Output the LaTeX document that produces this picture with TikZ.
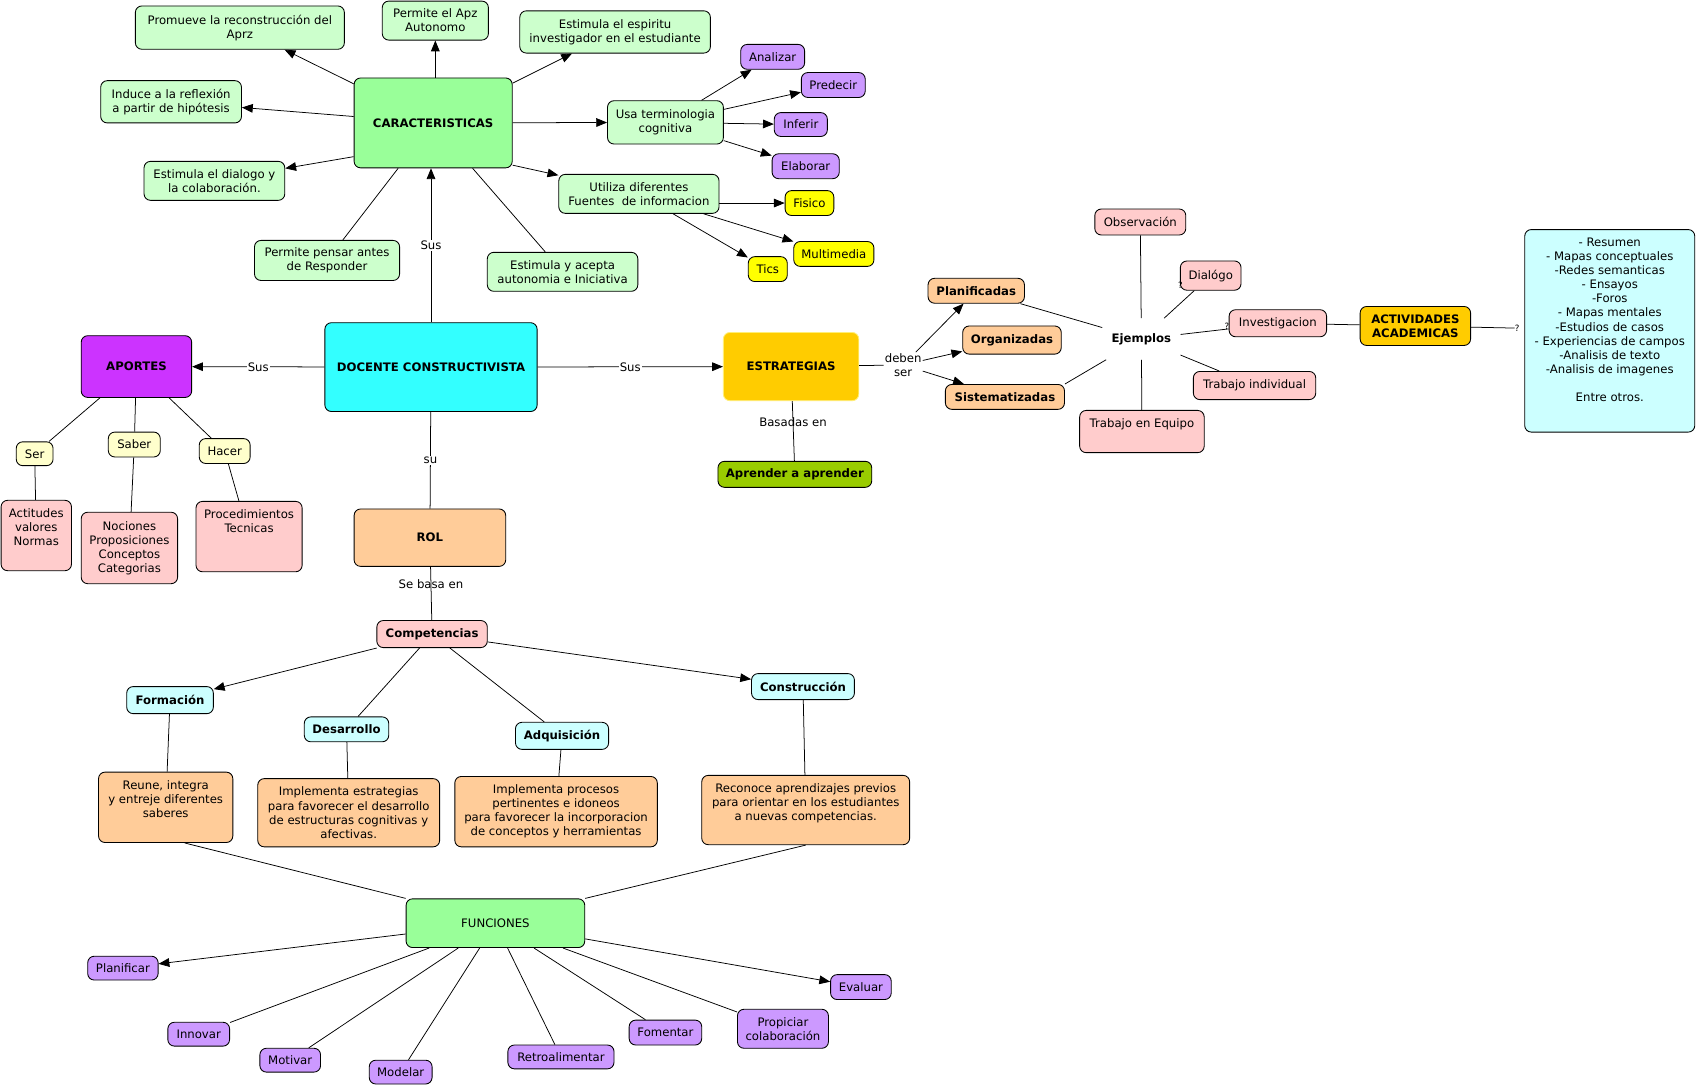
\documentclass[tikz,border=0pt]{standalone}
\usepackage{fontspec}
\setmainfont{DejaVu Sans}
\usetikzlibrary{arrows.meta}

\definecolor{verdeclaro}{HTML}{CCFFCC}
\definecolor{verde}{HTML}{99FF99}
\definecolor{cian}{HTML}{33FFFF}
\definecolor{morado}{HTML}{CC33FF}
\definecolor{lila}{HTML}{CC99FF}
\definecolor{amarillo}{HTML}{FFFF00}
\definecolor{crema}{HTML}{FFFFCC}
\definecolor{rosa}{HTML}{FFCCCC}
\definecolor{naranja}{HTML}{FFCC99}
\definecolor{oro}{HTML}{FFCC00}
\definecolor{oliva}{HTML}{99CC00}
\definecolor{celeste}{HTML}{CCFFFF}
\definecolor{bordeoro}{HTML}{FFEE77}

\newcommand{\letra}{\fontsize{10.8}{13}\selectfont}

\tikzset{
    caja/.style={draw, rounded corners=6pt, line width=0.8pt, align=center, inner sep=2pt, font=\letra},
    negrita/.style={font=\letra\bfseries},
    tam/.style 2 args={minimum width=#1pt, minimum height=#2pt},
    arriba/.style={anchor=north, align=center, inner sep=8pt, font=\letra},
    linea/.style={line width=0.7pt},
    flecha/.style={linea, -{Triangle[length=10pt,width=8pt]}},
    frase/.style={fill=white, inner sep=1pt, font=\letra},
    frasesola/.style={inner sep=1pt, font=\letra},
    qmark/.style={inner sep=0pt, font=\fontsize{8}{9}\selectfont},
}

\begin{document}
\begin{tikzpicture}[x=1pt, y=-1pt]
        \path[use as bounding box, fill=white] (0,0) rectangle (1568,1004.7);
        % CARACTERISTICAS y sus ramas
        \node[caja, negrita, fill=verde, tam={146}{83}] (carac) at (400,113.5) {CARACTERISTICAS};
        \node[caja, fill=verdeclaro, tam={193}{40}] (promueve) at (221.5,25.5) {Promueve la reconstrucción del\\Aprz};
        \node[caja, fill=verdeclaro, tam={98}{36}] (apz) at (402,19) {Permite el Apz\\Autonomo};
        \node[caja, fill=verdeclaro, tam={176}{39}] (espiritu) at (568,29.5) {Estimula el espiritu\\investigador en el estudiante};
        \node[caja, fill=verdeclaro, tam={130}{39}] (induce) at (158,94) {Induce a la reflexión\\a partir de hipótesis};
        \node[caja, fill=verdeclaro, tam={130}{36}] (dialogo) at (198,167) {Estimula el dialogo y\\la colaboración.};
        \node[caja, fill=verdeclaro, tam={134}{37}] (pensar) at (302,240.5) {Permite pensar antes\\de Responder};
        \node[caja, fill=verdeclaro, tam={139}{36}] (autonomia) at (519.5,251) {Estimula y acepta\\autonomia e Iniciativa};
        \node[caja, fill=verdeclaro, tam={107}{40}] (terminologia) at (614.5,113) {Usa terminologia\\cognitiva};
        \node[caja, fill=verdeclaro, tam={148}{36}] (fuentes) at (590,179) {Utiliza diferentes\\Fuentes\ \ de informacion};
        \node[caja, fill=lila, tam={59}{23}] (analizar) at (713.5,52.5) {Analizar};
        \node[caja, fill=lila, tam={59}{23}] (predecir) at (769.5,78.5) {Predecir};
        \node[caja, fill=lila, tam={49}{22}] (inferir) at (739.5,115) {Inferir};
        \node[caja, fill=lila, tam={62}{23}] (elaborar) at (744,153.5) {Elaborar};
        \node[caja, fill=amarillo, tam={45}{23}] (fisico) at (747.5,187.5) {Fisico};
        \node[caja, fill=amarillo, tam={74}{23}] (multimedia) at (770,234.5) {Multimedia};
        \node[caja, fill=amarillo, tam={36}{23}] (tics) at (709,248.5) {Tics};
        % DOCENTE y APORTES
        \node[caja, negrita, fill=cian, tam={196}{82}] (docente) at (398,339) {DOCENTE CONSTRUCTIVISTA};
        \node[caja, negrita, fill=morado, tam={102}{57}] (aportes) at (126,338.5) {APORTES};
        \node[caja, fill=crema, tam={34}{22}] (ser) at (32,419) {Ser};
        \node[caja, fill=crema, tam={48}{23}] (saber) at (124,410.5) {Saber};
        \node[caja, fill=crema, tam={47}{23}] (hacer) at (207.5,416.5) {Hacer};
        \node[caja, fill=rosa, tam={65}{65}, label={[arriba]north:{Actitudes\\valores\\Normas}}] (actitudes) at (33.5,494.5) {};
        \node[caja, fill=rosa, tam={89}{66}] (nociones) at (119.5,506) {Nociones\\Proposiciones\\Conceptos\\Categorias};
        \node[caja, fill=rosa, tam={98}{65}, label={[arriba]north:{Procedimientos\\Tecnicas}}] (procedimientos) at (230,495.5) {};
        \node[caja, negrita, fill=naranja, tam={140}{53}] (rol) at (397,496.5) {ROL};
        % ESTRATEGIAS
        \node[caja, negrita, fill=oro, draw=bordeoro, tam={125}{63}] (estrategias) at (730.5,338.5) {ESTRATEGIAS};
        \node[caja, negrita, fill=oliva, tam={142}{24}] (aprender) at (734,438) {Aprender a aprender};
        \node[frasesola, align=center] (deben) at (834,337) {deben\\ser};
        \node[caja, negrita, fill=naranja, tam={89}{23}] (planificadas) at (901.5,268.5) {Planificadas};
        \node[caja, negrita, fill=naranja, tam={91}{26}] (organizadas) at (934.5,314) {Organizadas};
        \node[caja, negrita, fill=naranja, tam={110}{23}] (sistematizadas) at (928,366.5) {Sistematizadas};
        \node[negrita, tam={72}{38}, inner sep=2pt] (ejemplos) at (1054,313) {Ejemplos};
        \node[caja, fill=rosa, tam={84}{24}] (observacion) at (1053,205) {Observación};
        \node[caja, fill=rosa, tam={56}{27}] (dialogo2) at (1118,254.5) {Dialógo};
        \node[caja, fill=rosa, tam={90}{25}] (investigacion) at (1180,298.5) {Investigacion};
        \node[caja, fill=rosa, tam={113}{26}] (individual) at (1158.5,356) {Trabajo individual};
        \node[caja, fill=rosa, tam={115}{39}, label={[arriba]north:{Trabajo en Equipo}}] (equipo) at (1054.5,398.5) {};
        \node[caja, negrita, fill=oro, tam={102}{36}] (actividades) at (1307,301) {ACTIVIDADES\\ACADEMICAS};
        \node[caja, fill=celeste, tam={157}{187}, label={[arriba]north:{- Resumen\\- Mapas conceptuales\\-Redes semanticas\\- Ensayos\\-Foros\\- Mapas mentales\\-Estudios de casos\\- Experiencias de campos\\-Analisis de texto\\-Analisis de imagenes\\[13pt]Entre otros.}}] (lista) at (1486.5,305.5) {};
        \node[qmark] (q1) at (1090,263) {?};
        \node[qmark] (q2) at (1133,301) {?};
        \node[qmark] (q3) at (1401,303) {?};
        % ROL: competencias
        \node[caja, negrita, fill=rosa, tam={102}{25}] (competencias) at (399,585.5) {Competencias};
        \node[caja, negrita, fill=celeste, tam={80}{25}] (formacion) at (157,646.5) {Formación};
        \node[caja, negrita, fill=celeste, tam={78}{23}] (desarrollo) at (320,673.5) {Desarrollo};
        \node[caja, negrita, fill=celeste, tam={86}{25}] (adquisicion) at (519,679.5) {Adquisición};
        \node[caja, negrita, fill=celeste, tam={95}{24}] (construccion) at (741.5,634) {Construcción};
        \node[caja, fill=naranja, tam={124}{65}, label={[arriba]north:{Reune, integra\\y entreje diferentes\\saberes}}] (reune) at (153,745.5) {};
        \node[caja, fill=naranja, tam={168}{63}] (implementa) at (322,750.5) {Implementa estrategias\\para favorecer el desarrollo\\de estructuras cognitivas y\\afectivas.};
        \node[caja, fill=naranja, tam={187}{65}] (procesos) at (513.5,749.5) {Implementa procesos\\pertinentes e idoneos\\para favorecer la incorporacion\\de conceptos y herramientas};
        \node[caja, fill=naranja, tam={192}{64}, label={[arriba]north:{Reconoce aprendizajes previos\\para orientar en los estudiantes\\a nuevas competencias.}}] (reconoce) at (744,748) {};
        % FUNCIONES
        \node[caja, fill=verde, tam={165}{45}] (funciones) at (457.5,852.5) {FUNCIONES};
        \node[caja, fill=lila, tam={65}{22}] (planificar) at (113.5,894) {Planificar};
        \node[caja, fill=lila, tam={57}{22}] (innovar) at (183.5,955) {Innovar};
        \node[caja, fill=lila, tam={56}{22}] (motivar) at (268,979) {Motivar};
        \node[caja, fill=lila, tam={58}{22}] (modelar) at (370,990) {Modelar};
        \node[caja, fill=lila, tam={98}{22}] (retroalimentar) at (518,976) {Retroalimentar};
        \node[caja, fill=lila, tam={67}{23}] (fomentar) at (614.5,953.5) {Fomentar};
        \node[caja, fill=lila, tam={84}{36}] (propiciar) at (723,950) {Propiciar\\colaboración};
        \node[caja, fill=lila, tam={56}{23}] (evaluar) at (795,911.5) {Evaluar};
        %
        % Conectores de CARACTERISTICAS
        \draw[flecha] (docente.north) -- node[frase]{Sus} (docente.north |- carac.south);
        \draw[flecha] (carac) -- (promueve);
        \draw[flecha] (carac.north -| apz) -- (apz);
        \draw[flecha] (carac) -- (espiritu);
        \draw[flecha] (carac) -- (induce);
        \draw[flecha] (carac.203) -- (dialogo.10);
        \draw[linea] (carac) -- (pensar);
        \draw[linea] (carac) -- (autonomia);
        \draw[flecha] (carac) -- (terminologia);
        \draw[flecha] (carac.-28) -- (fuentes.167);
        \foreach \hoja in {analizar,predecir,inferir,elaborar}
            \draw[flecha] (terminologia) -- (\hoja);
        \draw[flecha] (fuentes.east |- fisico) -- (fisico);
        \foreach \hoja in {multimedia,tics}
            \draw[flecha] (fuentes) -- (\hoja);
        % Conectores del DOCENTE
        \draw[flecha] (docente) -- node[frase]{Sus} (aportes);
        \draw[flecha] (docente) -- node[frase]{Sus} (estrategias);
        \draw[linea] (docente) -- node[frase]{su} (rol);
        \foreach \hijo/\nieto in {ser/actitudes, saber/nociones, hacer/procedimientos}{
            \draw[linea] (aportes) -- (\hijo);
            \draw[linea] (\hijo) -- (\nieto);
        }
        % Conectores de ESTRATEGIAS
        \draw[linea] (estrategias) -- node[frasesola, pos=0.35]{Basadas en} (aprender);
        \draw[linea] (estrategias) -- (deben);
        \foreach \tipo in {planificadas,organizadas,sistematizadas}
            \draw[flecha] (deben) -- (\tipo);
        \draw[linea] (planificadas) -- (ejemplos);
        \draw[linea] (sistematizadas.north east) -- (ejemplos);
        \foreach \ej in {observacion,dialogo2,investigacion,individual,equipo}
            \draw[linea] (ejemplos) -- (\ej);
        \draw[linea] (investigacion) -- (actividades);
        \draw[linea] (actividades) -- (q3);
        % Conectores del ROL
        \draw[linea] (rol) -- node[frasesola, pos=0.32]{Se basa en} (competencias);
        \draw[flecha] (competencias) -- (formacion);
        \draw[linea] (competencias) -- (desarrollo);
        \draw[linea] (competencias) -- (adquisicion);
        \draw[flecha] (competencias) -- (construccion);
        \foreach \comp/\desc in {formacion/reune, desarrollo/implementa, adquisicion/procesos, construccion/reconoce}
            \draw[linea] (\comp) -- (\desc);
        \draw[linea] (reune.-62) -- (funciones.north west);
        \draw[linea] (reconoce.south) -- (funciones.north east);
        % Conectores de FUNCIONES
        \draw[flecha] (funciones) -- (planificar);
        \draw[flecha] (funciones) -- (evaluar);
        \foreach \f in {innovar,motivar,modelar,retroalimentar,fomentar,propiciar}
            \draw[linea] (funciones) -- (\f);
        %
    \end{tikzpicture}
\end{document}
